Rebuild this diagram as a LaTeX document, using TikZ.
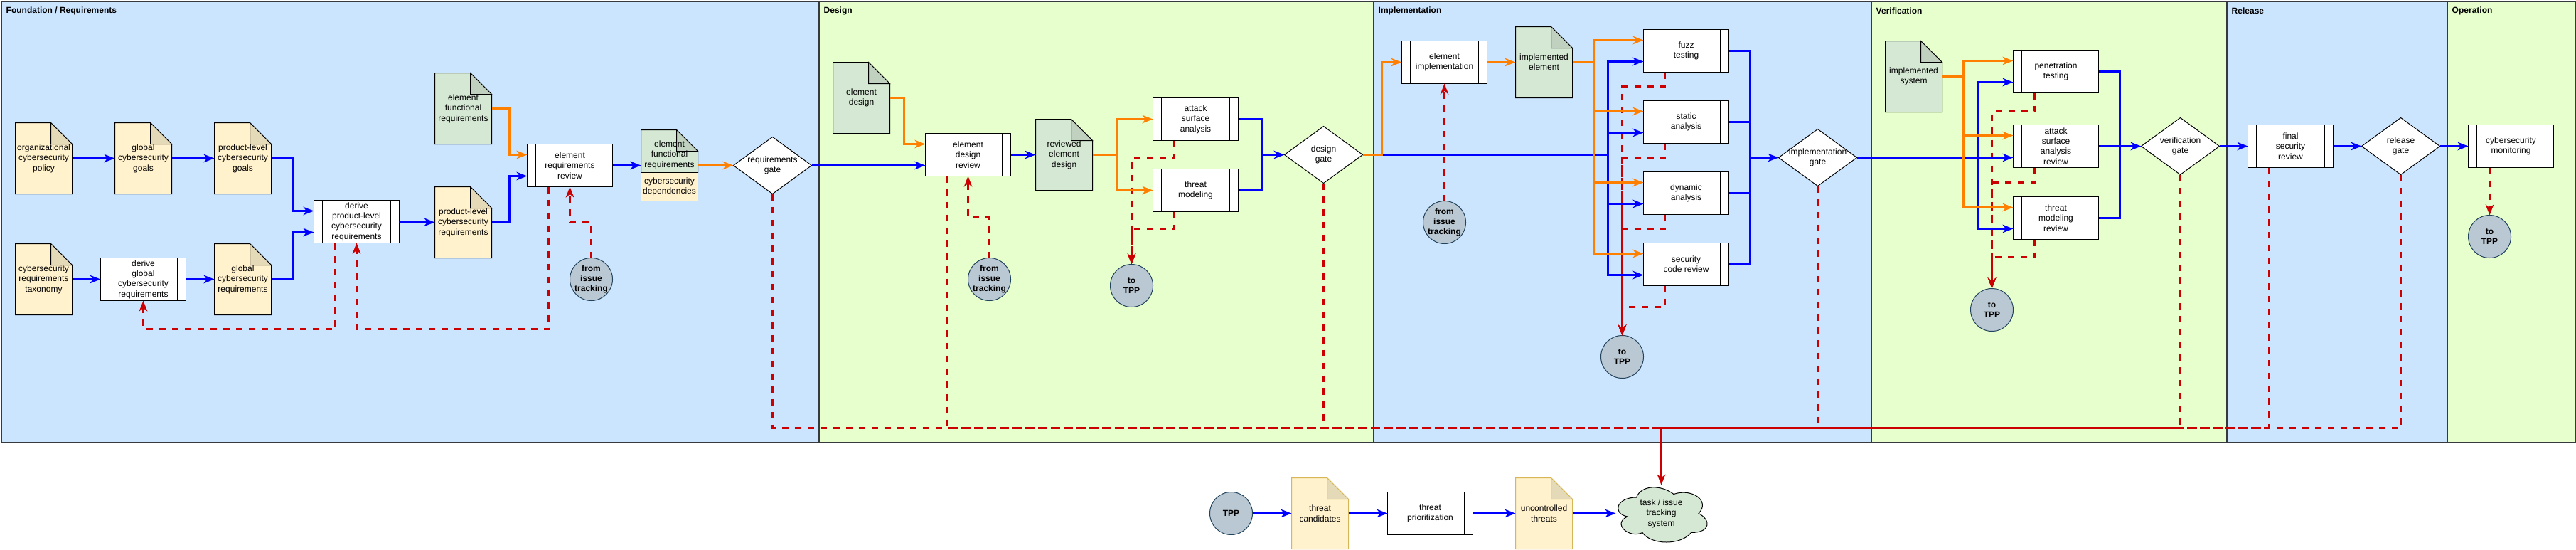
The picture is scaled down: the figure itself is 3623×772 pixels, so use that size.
\documentclass[tikz,border=0pt]{standalone}
\usepackage{fontspec}
\setmainfont{Liberation Sans}
\usetikzlibrary{arrows.meta,shapes.geometric,calc}
\definecolor{bandblue}{HTML}{CCE5FF}
\definecolor{bandgreen}{HTML}{E6FFCC}
\definecolor{bandline}{HTML}{36393D}
\definecolor{docgreen}{HTML}{D5E8D4}
\definecolor{docyellow}{HTML}{FFF2CC}
\definecolor{docyline}{HTML}{D6B656}
\definecolor{circfill}{HTML}{BAC8D3}
\definecolor{circline}{HTML}{23445D}
\definecolor{flowblue}{HTML}{0000FF}
\definecolor{floworange}{HTML}{FF8000}
\definecolor{flowred}{HTML}{CC0000}
\tikzset{
  txt/.style={font=\fontsize{12}{14.4}\selectfont,align=center,inner sep=0pt,outer sep=0pt},
  btxt/.style={font=\fontsize{12}{14.4}\selectfont\bfseries,align=center,inner sep=0pt,outer sep=0pt},
  band/.style={draw=bandline,line width=2pt,minimum width=#1,minimum height=620pt,inner sep=0pt,outer sep=0pt},
  bandtitle/.style={font=\fontsize{12}{14.4}\selectfont\bfseries,anchor=west,inner sep=0pt},
  stepbox/.style={txt,draw=black,fill=white,line width=1pt,minimum width=120pt,minimum height=60pt,
    path picture={
      \draw[black,line width=1pt] ([xshift=12pt]path picture bounding box.north west) -- ([xshift=12pt]path picture bounding box.south west);
      \draw[black,line width=1pt] ([xshift=-12pt]path picture bounding box.north east) -- ([xshift=-12pt]path picture bounding box.south east);
    }},
  docbox/.style={txt,minimum width=80pt,minimum height=100pt},
  gateshape/.style={diamond,draw=black,fill=white,line width=1pt,minimum width=110pt,minimum height=80pt,inner sep=0pt,outer sep=0pt},
  circshape/.style={ellipse,draw=circline,fill=circfill,line width=1pt,minimum width=60pt,minimum height=60pt,inner sep=0pt,outer sep=0pt},
  flowtip/.style={-{Stealth[length=15pt,width=11.5pt,inset=4.5pt]}},
  blueflow/.style={flowtip,draw=flowblue,line width=3pt},
  blueline/.style={draw=flowblue,line width=3pt},
  orangeflow/.style={flowtip,draw=floworange,line width=3pt},
  orangeline/.style={draw=floworange,line width=3pt},
  redflow/.style={flowtip,draw=flowred,line width=3pt,dash pattern=on 9pt off 9pt},
  redline/.style={draw=flowred,line width=3pt,dash pattern=on 9pt off 9pt},
  redsolid/.style={flowtip,draw=flowred,line width=3pt},
}
% name, left, top, colour, line colour, text
\newcommand{\docnote}[6]{%
  \draw[fill=#4,draw=#5,line width=1pt,line join=miter] (#2,#3) -- ++(50,0) -- ++(30,30) -- ++(0,70) -- ++(-80,0) -- cycle;
  \draw[fill=#4!90!black,draw=#5,line width=1pt] (#2+50,#3) -- ++(0,30) -- ++(30,0) -- cycle;
  \node[docbox] (#1) at (#2+40,#3+50) {#6};
}
\newcommand{\gatenode}[3]{\node[gateshape,label={[txt]center:{#3}}] (#1) at (#2) {};}
\newcommand{\circnode}[3]{\node[circshape,label={[btxt]center:{#3}}] (#1) at (#2) {};}
\begin{document}
\begin{tikzpicture}[x=1pt,y=-1pt]
\useasboundingbox (0,0) rectangle (3623,772);
% bands
\node[band=1150pt,fill=bandblue] (b1) at (576.5,311.5) {};
\node[band=780pt,fill=bandgreen] (b2) at (1541.5,311.5) {};
\node[band=700pt,fill=bandblue] (b3) at (2281.5,311.5) {};
\node[band=500pt,fill=bandgreen] (b4) at (2881.5,311.5) {};
\node[band=310pt,fill=bandblue] (b5) at (3286.5,311.5) {};
\node[band=180pt,fill=bandgreen] (b6) at (3531.5,311.5) {};
\node[bandtitle] (t1) at (8.5,15.5) {Foundation / Requirements};
\node[bandtitle] (t2) at (1158.5,15.5) {Design};
\node[bandtitle] (t3) at (1938.5,15.5) {Implementation};
\node[bandtitle] (t4) at (2638.5,15.5) {Verification};
\node[bandtitle] (t5) at (3138.5,15.5) {Release};
\node[bandtitle] (t6) at (3448.5,15.5) {Operation};
% foundation
\docnote{orgpol}{21.5}{172.5}{docyellow}{black}{organizational\\cybersecurity\\policy}
\docnote{glgoals}{161.5}{172.5}{docyellow}{black}{global\\cybersecurity\\goals}
\docnote{plgoals}{301.5}{172.5}{docyellow}{black}{product-level\\cybersecurity\\goals}
\docnote{taxon}{21.5}{342.5}{docyellow}{black}{cybersecurity\\requirements\\taxonomy}
\node[stepbox] (dglob) at (201.5,392.5) {derive\\global\\cybersecurity\\requirements};
\docnote{glreq}{301.5}{342.5}{docyellow}{black}{global\\cybersecurity\\requirements}
\node[stepbox] (dprod) at (501.5,311.5) {derive\\product-level\\cybersecurity\\requirements};
\docnote{plreq}{611.5}{262.5}{docyellow}{black}{product-level\\cybersecurity\\requirements}
\docnote{efreq}{611.5}{102.5}{docgreen}{black}{element\\functional\\requirements}
\node[stepbox] (erev) at (801.5,232.5) {element\\requirements\\review};
\circnode{it1}{831.5,392.5}{from\\issue\\tracking}
% compound document
\draw[fill=docgreen,draw=black,line width=1pt] (901.5,182.5) -- ++(50,0) -- ++(30,30) -- ++(0,30) -- ++(-80,0) -- cycle;
\draw[fill=docgreen!90!black,draw=black,line width=1pt] (951.5,182.5) -- ++(0,30) -- ++(30,0) -- cycle;
\draw[fill=docyellow,draw=black,line width=1pt] (901.5,242.5) rectangle (981.5,282.5);
\node[docbox] (cdoc) at (941.5,232.5) {};
\node[txt] (cdoctop) at (941.5,217.5) {element\\functional\\requirements};
\node[txt] (cdocdep) at (941.5,262.5) {cybersecurity\\dependencies};
\gatenode{rgate}{1086.5,232.5}{requirements\\gate}
% design
\docnote{edes}{1171.5}{87.5}{docgreen}{black}{element\\design}
\node[stepbox] (edrev) at (1361.5,217.5) {element\\design\\review};
\docnote{rdes}{1456.5}{167.5}{docgreen}{black}{reviewed\\element\\design}
\circnode{it2}{1391.5,392.5}{from\\issue\\tracking}
\node[stepbox] (asa) at (1681.5,167.5) {attack\\surface\\analysis};
\node[stepbox] (tm) at (1681.5,267.5) {threat\\modeling};
\circnode{tpp1}{1591.5,401.5}{to\\TPP}
\gatenode{dgate}{1861.5,217.5}{design\\gate}
% implementation
\node[stepbox] (eimp) at (2031.5,87.5) {element\\implementation};
\docnote{idoc}{2131.5}{37.5}{docgreen}{black}{implemented\\element}
\circnode{it3}{2031.5,312.5}{from\\issue\\tracking}
\node[stepbox] (fuzz) at (2371.5,71.5) {fuzz\\testing};
\node[stepbox] (stat) at (2371.5,171.5) {static\\analysis};
\node[stepbox] (dyn) at (2371.5,271.5) {dynamic\\analysis};
\node[stepbox] (scr) at (2371.5,371.5) {security\\code review};
\circnode{tpp2}{2281.5,501.5}{to\\TPP}
\gatenode{igate}{2556.5,221.5}{implementation\\gate}
% verification
\docnote{sysd}{2651.5}{57.5}{docgreen}{black}{implemented\\system}
\node[stepbox] (pen) at (2891.5,100.5) {penetration\\testing};
\node[stepbox] (asar) at (2891.5,205.5) {attack\\surface\\analysis\\review};
\node[stepbox] (tmr) at (2891.5,306.5) {threat\\modeling\\review};
\circnode{tpp3}{2801.5,435.5}{to\\TPP}
\gatenode{vgate}{3066.5,205.5}{verification\\gate}
% release
\node[stepbox] (fsr) at (3221.5,205.5) {final\\security\\review};
\gatenode{rlgate}{3376.5,205.5}{release\\gate}
% operation
\node[stepbox] (mon) at (3531.5,205.5) {cybersecurity\\monitoring};
\circnode{tpp4}{3501.5,332.5}{to\\TPP}
% lower row
\circnode{tpp}{1731.5,721.5}{TPP}
\docnote{tcand}{1816.5}{671.5}{docyellow}{docyline}{threat\\candidates}
\node[stepbox] (tprio) at (2011.5,721.5) {threat\\prioritization};
\docnote{uthr}{2131.5}{671.5}{docyellow}{docyline}{uncontrolled\\threats}
\draw[fill=docgreen,draw=black,line width=1pt]
  (2301.5,699) .. controls (2273.5,699) and (2266.5,721.5) .. (2288.9,726)
  .. controls (2266.5,735.9) and (2291.7,757.5) .. (2309.9,748.5)
  .. controls (2322.5,766.5) and (2364.5,766.5) .. (2378.5,748.5)
  .. controls (2406.5,748.5) and (2406.5,730.5) .. (2389,721.5)
  .. controls (2406.5,703.5) and (2378.5,685.5) .. (2354,694.5)
  .. controls (2336.5,681) and (2308.5,681) .. (2301.5,699) -- cycle;
\node[txt,minimum width=128pt,minimum height=79.6pt] (cloud) at (2336.5,721.5) {task / issue\\tracking\\system};
\coordinate (trunk) at (2336.5,601.5);
\coordinate (vcorner) at (3066.5,601.5);
% red connectors
\draw[redflow] ([xshift=-30pt]dprod.south) |- (201.5,462.5) -- (dglob.south);
\draw[redflow] ([xshift=-30pt]erev.south) |- (501.5,462.5) -- (dprod.south);
\draw[redflow] (it1.north) |- (801.5,312.5) -- ([xshift=0pt]erev.south);
\draw[redflow] (it2.north) |- (1361.5,305) -- (edrev.south);
\draw[redline] (rgate.south) |- (trunk);
\draw[redline] ([xshift=-30pt]edrev.south) |- (trunk);
\draw[redline] (dgate.south) |- (trunk);
\draw[redflow] ([xshift=-30pt]asa.south) |- (1591.5,221.5) -- (tpp1.north);
\draw[redflow] ([xshift=-30pt]tm.south) |- (1591.5,321.5) -- (tpp1.north);
\draw[redflow] (it3.north) -- (eimp.south);
\draw[redflow] ([xshift=-30pt]fuzz.south) |- (2281.5,121.5) -- (tpp2.north);
\draw[redflow] ([xshift=-30pt]stat.south) |- (2281.5,221.5) -- (tpp2.north);
\draw[redflow] ([xshift=-30pt]dyn.south) |- (2281.5,321.5) -- (tpp2.north);
\draw[redflow] ([xshift=-30pt]scr.south) |- (2281.5,431.5) -- (tpp2.north);
\draw[redline] (igate.south) -- (2556.5,596);
\draw[redflow] ([xshift=-30pt]pen.south) |- (2801.5,156.5) -- (tpp3.north);
\draw[redflow] ([xshift=-30pt]asar.south) |- (2801.5,256.5) -- (tpp3.north);
\draw[redflow] ([xshift=-30pt]tmr.south) |- (2801.5,361.5) -- (tpp3.north);
\draw[redline] (vgate.south) -- (vcorner);
\draw[redline] ([xshift=-30pt]fsr.south) |- (trunk);
\draw[redline] (rlgate.south) |- (trunk);
\draw[redflow] ([xshift=-30pt]mon.south) -- (tpp4.north);
\draw[redsolid] (vcorner) -- (trunk) -- (cloud.north);
% blue connectors
\draw[blueflow] (orgpol) -- (glgoals);
\draw[blueflow] (glgoals) -- (plgoals);
\draw[blueflow] (plgoals.east) -| (411.5,296.5) -- ([yshift=15pt]dprod.west);
\draw[blueflow] (taxon) -- (dglob);
\draw[blueflow] (dglob) -- (glreq);
\draw[blueflow] (glreq.east) -| (411.5,326.5) -- ([yshift=-15pt]dprod.west);
\draw[blueflow] (dprod.east) -- (plreq.west);
\draw[blueflow] (plreq.east) -| (716.5,247.5) -- ([yshift=-15pt]erev.west);
\draw[blueflow] (erev.east) -- (cdoc.west);
\draw[blueflow] (rgate.east) -- ([yshift=-15pt]edrev.west);
\draw[blueflow] (edrev.east) -- (rdes.west);
\draw[blueline] (asa.east) -| (1774,217.5);
\draw[blueline] (tm.east) -| (1774,217.5);
\draw[blueflow] (1774,217.5) -- (dgate.west);
\draw[blueline] (dgate.east) -- (2261.5,217.5);
\draw[blueflow] (2261.5,217.5) |- ([yshift=-15pt]fuzz.west);
\draw[blueflow] (2261.5,217.5) |- ([yshift=-15pt]stat.west);
\draw[blueflow] (2261.5,217.5) |- ([yshift=-15pt]dyn.west);
\draw[blueflow] (2261.5,217.5) |- ([yshift=-15pt]scr.west);
\draw[blueline] (fuzz.east) -| (2461.5,221.5);
\draw[blueline] (stat.east) -| (2461.5,221.5);
\draw[blueline] (dyn.east) -| (2461.5,221.5);
\draw[blueline] (scr.east) -| (2461.5,221.5);
\draw[blueflow] (2461.5,221.5) -- (igate.west);
\draw[blueflow] (igate.east) -- (igate.east -| asar.west);
\draw[blueflow] (2781.5,221.5) |- ([yshift=-15pt]pen.west);
\draw[blueflow] (2781.5,221.5) |- ([yshift=-15pt]tmr.west);
\draw[blueline] (pen.east) -| (2981.5,205.5);
\draw[blueline] (tmr.east) -| (2981.5,205.5);
\draw[blueflow] (asar.east) -- (vgate.west);
\draw[blueflow] (vgate.east) -- (fsr.west);
\draw[blueflow] (fsr.east) -- (rlgate.west);
\draw[blueflow] (rlgate.east) -- (mon.west);
\draw[blueflow] (tpp.east) -- (tcand.west);
\draw[blueflow] (tcand.east) -- (tprio.west);
\draw[blueflow] (tprio.east) -- (uthr.west);
\draw[blueflow] (uthr.east) -- (cloud.west);
% orange connectors
\draw[orangeflow] (efreq.east) -| (716.5,217.5) -- ([yshift=15pt]erev.west);
\draw[orangeflow] (cdoc.east) -- (rgate.west);
\draw[orangeflow] (edes.east) -| (1271.5,202.5) -- ([yshift=15pt]edrev.west);
\draw[orangeline] (rdes.east) -- (1571.5,217.5);
\draw[orangeflow] (1571.5,217.5) |- (asa.west);
\draw[orangeflow] (1571.5,217.5) |- (tm.west);
\draw[orangeflow] (dgate.east) -| (1943.5,87.5) -- (eimp.west);
\draw[orangeflow] (eimp.east) -- (idoc.west);
\draw[orangeline] (idoc.east) -- (2241.5,87.5);
\draw[orangeflow] (2241.5,87.5) |- ([yshift=15pt]fuzz.west);
\draw[orangeflow] (2241.5,87.5) |- ([yshift=15pt]stat.west);
\draw[orangeflow] (2241.5,87.5) |- ([yshift=15pt]dyn.west);
\draw[orangeflow] (2241.5,87.5) |- ([yshift=15pt]scr.west);
\draw[orangeline] (sysd.east) -- (2761.5,107.5);
\draw[orangeflow] (2761.5,107.5) |- ([yshift=15pt]pen.west);
\draw[orangeflow] (2761.5,107.5) |- ([yshift=15pt]asar.west);
\draw[orangeflow] (2761.5,107.5) |- ([yshift=15pt]tmr.west);
\end{tikzpicture}
\end{document}
